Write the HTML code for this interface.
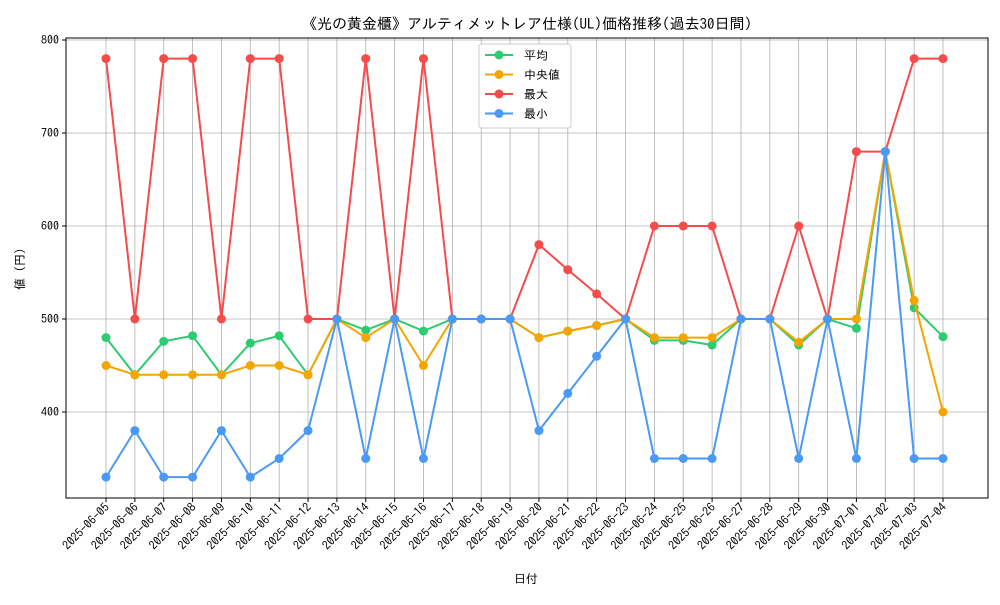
<!DOCTYPE html>
<html><head><meta charset="utf-8">
<style>
html,body{margin:0;padding:0;background:#fff;}
svg text{font-family:"IPAGothic","Noto Sans CJK JP",sans-serif;}
</style></head>
<body>
<svg id="chart" width="1000" height="600" xmlns="http://www.w3.org/2000/svg">
<rect width="1000" height="600" fill="#fff"/>
<text x="527" y="29" font-size="15" text-anchor="middle" fill="#000">《光の黄金櫃》アルティメットレア仕様(UL)価格推移(過去30日間)</text>
<g id="grid"></g>
<g id="axes"></g>
<g id="series"></g>
<text x="526" y="583" font-size="12" text-anchor="middle">日付</text>
<text transform="translate(24,269) rotate(-90)" font-size="12" text-anchor="middle">値 (円)</text>
<g>
<rect x="479" y="44" width="92" height="84" fill="#fff" stroke="#ccc" rx="3"/>
<g id="legend"></g>
</g>
</svg>
<script>
const dates=["2025-06-05","2025-06-06","2025-06-07","2025-06-08","2025-06-09","2025-06-10","2025-06-11","2025-06-12","2025-06-13","2025-06-14","2025-06-15","2025-06-16","2025-06-17","2025-06-18","2025-06-19","2025-06-20","2025-06-21","2025-06-22","2025-06-23","2025-06-24","2025-06-25","2025-06-26","2025-06-27","2025-06-28","2025-06-29","2025-06-30","2025-07-01","2025-07-02","2025-07-03","2025-07-04"];
const meanVals=[480,440,476,482,440,474,482,440,500,488,500,487,500,500,500,480,487,493,500,477,477,472,500,500,472,500,490,680,512,481];
const medianVals=[450,440,440,440,440,450,450,440,500,480,500,450,500,500,500,480,487,493,500,480,480,480,500,500,475,500,500,680,520,400];
const maxVals=[780,500,780,780,500,780,780,500,500,780,500,780,500,500,500,580,553,527,500,600,600,600,500,500,600,500,680,680,780,780];
const minVals=[330,380,330,330,380,330,350,380,500,350,500,350,500,500,500,380,420,460,500,350,350,350,500,500,350,500,350,680,350,350];
const yTicks=[400,500,600,700,800];
const seriesNames=["平均","中央値","最大","最小"];
const seriesColors=["#2ecc71","#f5a500","#f44b4b","#4a9af5"];
const NS="http://www.w3.org/2000/svg";
const L=66,R=988,T=38,B=498;
function xS(i){return 106+i*(943-106)/(dates.length-1);}
function yS(v){return 319-(v-500)*0.93;}
function mk(tag,attrs,parent){const e=document.createElementNS(NS,tag);for(const k in attrs)e.setAttribute(k,attrs[k]);parent.appendChild(e);return e;}
const grid=document.getElementById('grid'),axes=document.getElementById('axes'),ser=document.getElementById('series'),leg=document.getElementById('legend');
dates.forEach((d,i)=>{
 const x=xS(i);
 const g=mk('line',{x1:x,x2:x,y1:T,y2:B,stroke:'#b0b0b0','stroke-width':0.8},grid);
 
 
 mk('line',{x1:x,x2:x,y1:B,y2:B+4,stroke:'#000'},axes);
 const t=mk('text',{transform:`translate(${x+4},${B+10}) rotate(-45)`,'font-size':12,'text-anchor':'end'},axes);
 t.textContent=d;
 
 
});
yTicks.forEach(v=>{
 const y=yS(v);
 const g=mk('line',{x1:L,x2:R,y1:y,y2:y,stroke:'#b0b0b0','stroke-width':0.8},grid);
 
 
 mk('line',{x1:L-4,x2:L,y1:y,y2:y,stroke:'#000'},axes);
 const t=mk('text',{x:L-7,y:y+4,'font-size':12,'text-anchor':'end'},axes);
 t.textContent=v;
 
 
});
const frame=mk('rect',{x:L,y:T,width:R-L,height:B-T,fill:'none',stroke:'#000','stroke-width':1},axes);


const allSeries=[meanVals,medianVals,maxVals,minVals];
const sNames=['series-mean','series-median','series-max','series-min'];
allSeries.forEach((vals,s)=>{
 const g=mk('g',{},ser);
 
 
 const pts=vals.map((v,i)=>xS(i)+','+yS(v)).join(' ');
 mk('polyline',{points:pts,fill:'none',stroke:seriesColors[s],'stroke-width':2},g);
 vals.forEach((v,i)=>{
  const c=mk('circle',{cx:xS(i),cy:yS(v),r:4.5,fill:seriesColors[s]},g);
  
  
 });
});
seriesNames.forEach((n,s)=>{
 const y=55+s*19.5;
 const g=mk('g',{},leg);
 
 
 mk('line',{x1:485,x2:513,y1:y,y2:y,stroke:seriesColors[s],'stroke-width':2},g);
 mk('circle',{cx:499,cy:y,r:4.5,fill:seriesColors[s]},g);
 const t=mk('text',{x:524,y:y+4.5,'font-size':12},g);
 t.textContent=n;
});
</script>
</body></html>
